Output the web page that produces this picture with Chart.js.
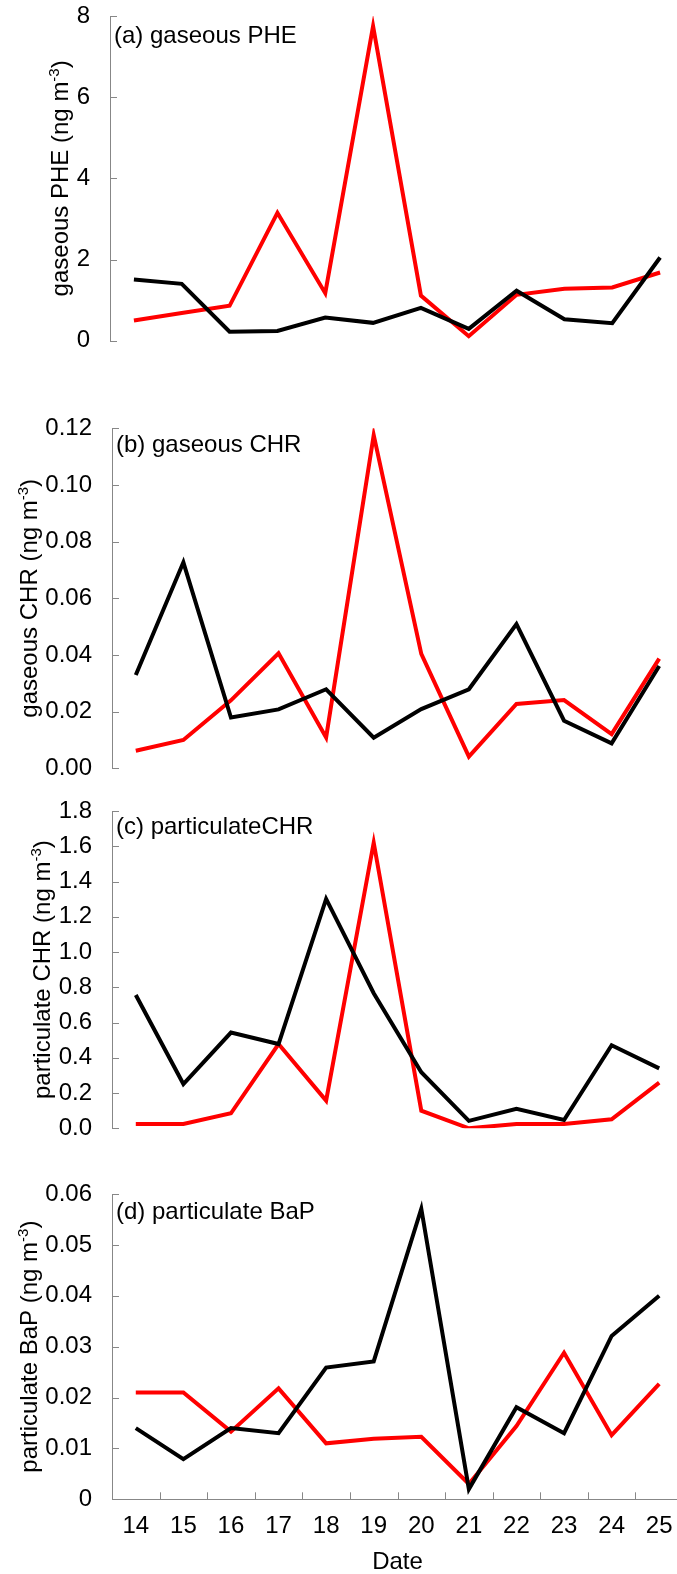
<!DOCTYPE html>
<html>
<head>
<meta charset="utf-8">
<title>PAH time series</title>
<script src="https://cdn.jsdelivr.net/npm/chart.js@4.4.1/dist/chart.umd.min.js"></script>
<style>
  html, body { margin: 0; padding: 0; background: #fff; overflow: hidden; }
  #wrap { position: relative; width: 677px; height: 1574px; overflow: hidden; }
  #wrap canvas { position: absolute; left: 0; }
</style>
</head>
<body>
<div id="wrap">
  <canvas id="panelA"></canvas>
  <canvas id="panelB"></canvas>
  <canvas id="panelC"></canvas>
  <canvas id="panelD"></canvas>
</div>
<script>
// sampling dates
const dates = ['14', '15', '16', '17', '18', '19', '20', '21', '22', '23', '24', '25'];

// (a) gaseous PHE, ng m-3
const pheGasBlack = [1.51, 1.40, 0.22, 0.24, 0.57, 0.44, 0.81, 0.29, 1.23, 0.53, 0.43, 2.05];
const pheGasRed   = [0.50, 0.68, 0.86, 3.15, 1.17, 7.75, 1.11, 0.11, 1.13, 1.28, 1.31, 1.68];
const pheGasTicks = ['0', '2', '4', '6', '8'];

// (b) gaseous CHR, ng m-3
const chrGasBlack = [0.0329, 0.0727, 0.0179, 0.0208, 0.0279, 0.0108, 0.0209, 0.0279, 0.0509, 0.0168, 0.0088, 0.0361];
const chrGasRed   = [0.0062, 0.0100, 0.0240, 0.0406, 0.0109, 0.1176, 0.0404, 0.0041, 0.0227, 0.0241, 0.0121, 0.0387];
const chrGasTicks = ['0.00', '0.02', '0.04', '0.06', '0.08', '0.10', '0.12'];

// (c) particulate CHR, ng m-3
const chrPartBlack = [0.756, 0.251, 0.543, 0.478, 1.301, 0.766, 0.318, 0.042, 0.110, 0.047, 0.471, 0.340];
const chrPartRed   = [0.025, 0.025, 0.085, 0.478, 0.157, 1.620, 0.100, 0.000, 0.025, 0.025, 0.051, 0.259];
const chrPartTicks = ['0.0', '0.2', '0.4', '0.6', '0.8', '1.0', '1.2', '1.4', '1.6', '1.8'];

// (d) particulate BaP, ng m-3
const bapPartBlack = [0.0140, 0.0079, 0.0140, 0.0130, 0.0259, 0.0271, 0.0571, 0.0020, 0.0181, 0.0130, 0.0321, 0.0400];
const bapPartRed   = [0.0210, 0.0210, 0.0133, 0.0218, 0.0110, 0.0119, 0.0123, 0.0030, 0.0144, 0.0288, 0.0126, 0.0227];
const bapPartTicks = ['0', '0.01', '0.02', '0.03', '0.04', '0.05', '0.06'];

const FONT = '"Liberation Sans", Arial, Helvetica, sans-serif';
const AXIS_GREY = '#878787';
const TICK_PAD = 20;
const CANVAS_W = 690;

// draws inward tick marks, the panel tag and the rotated y title (with superscript)
const panelDecor = {
    id: 'panelDecor',
    afterDraw(chart, args, opts) {
        const ctx = chart.ctx;
        const area = chart.chartArea;
        const y = chart.scales.y;
        const x = chart.scales.x;
        ctx.save();

        ctx.strokeStyle = AXIS_GREY;
        ctx.lineWidth = 1;
        y.ticks.forEach((t, i) => {
            const py = Math.round(y.getPixelForTick(i)) + 0.5;
            ctx.beginPath();
            ctx.moveTo(area.left, py);
            ctx.lineTo(area.left + 7, py);
            ctx.stroke();
        });
        if (opts.xTicks) {
            for (let i = 1; i < dates.length; i++) {
                const px = Math.round((x.getPixelForValue(i - 1) + x.getPixelForValue(i)) / 2) + 0.5;
                ctx.beginPath();
                ctx.moveTo(px, area.bottom);
                ctx.lineTo(px, area.bottom - 7);
                ctx.stroke();
            }
        }

        // panel tag, top left inside the plot
        ctx.fillStyle = '#000';
        ctx.font = '24px ' + FONT;
        ctx.textAlign = 'left';
        ctx.textBaseline = 'middle';
        ctx.fillText(opts.tag, area.left + 4, area.top + opts.tagDy);

        // y title: sits left of the widest tick label
        const labelW = Math.max(...opts.tickLabels.map(s => ctx.measureText(s).width));
        const cx = area.left - TICK_PAD - labelW - 17;
        const mainFont = '24px ' + FONT;
        const supFont = '15px ' + FONT;
        ctx.font = mainFont;
        const w1 = ctx.measureText(opts.title).width;
        const w3 = ctx.measureText(')').width;
        ctx.font = supFont;
        const w2 = ctx.measureText('-3').width;
        const base = 8.3;

        ctx.translate(cx, (area.top + area.bottom) / 2);
        ctx.rotate(-Math.PI / 2);
        ctx.textBaseline = 'alphabetic';
        let tx = -(w1 + w2 + w3) / 2;
        ctx.font = mainFont;
        ctx.fillText(opts.title, tx, base);
        tx += w1;
        ctx.font = supFont;
        ctx.fillText('-3', tx, base - 9);
        tx += w2;
        ctx.font = mainFont;
        ctx.fillText(')', tx, base);

        ctx.restore();
    }
};

function makePanel(cfg) {
    const el = document.getElementById(cfg.id);
    el.width = CANVAS_W;
    el.height = cfg.height;
    el.style.top = cfg.top + 'px';

    const xScale = {
        type: 'category',
        offset: true,
        display: cfg.showX,
        grid: { display: false, drawTicks: false, tickLength: 0 },
        border: { display: true, color: AXIS_GREY, width: 1 },
        ticks: { color: '#000', padding: 13, maxRotation: 0, font: { family: FONT, size: 24 } },
        title: {
            display: cfg.showX,
            text: 'Date',
            color: '#000',
            padding: { top: 4, bottom: 0 },
            font: { family: FONT, size: 24 }
        }
    };
    if (cfg.showX) xScale.afterFit = s => { s.height = cfg.xHeight; };

    return new Chart(el, {
        type: 'line',
        data: {
            labels: dates,
            datasets: [
                { data: cfg.black, borderColor: '#000000', borderWidth: 4, pointRadius: 0, tension: 0, fill: false },
                { data: cfg.red, borderColor: '#ff0000', borderWidth: 4, pointRadius: 0, tension: 0, fill: false }
            ]
        },
        options: {
            responsive: false,
            animation: false,
            devicePixelRatio: 1,
            events: [],
            layout: {
                padding: { left: 0, right: CANVAS_W - cfg.right, top: cfg.padTop, bottom: cfg.padBottom }
            },
            plugins: {
                legend: { display: false },
                tooltip: { enabled: false },
                panelDecor: {
                    tag: cfg.tag,
                    tagDy: cfg.tagDy,
                    title: cfg.title,
                    tickLabels: cfg.ticks,
                    xTicks: cfg.showX
                }
            },
            scales: {
                x: xScale,
                y: {
                    min: 0,
                    max: cfg.max,
                    grid: { display: false, drawTicks: false, tickLength: 0 },
                    border: { display: true, color: AXIS_GREY, width: 1 },
                    ticks: {
                        stepSize: cfg.step,
                        color: '#000',
                        padding: TICK_PAD,
                        font: { family: FONT, size: 24 },
                        callback: (v, i) => cfg.ticks[i]
                    },
                    afterFit: s => { s.width = cfg.left; }
                }
            }
        },
        plugins: [panelDecor]
    });
}

const charts = {};

// canvases overlap a little so each axis keeps room for its end labels
charts.a = makePanel({
    id: 'panelA', top: -20, height: 401, left: 110, right: 684, padTop: 36, padBottom: 40.3,
    black: pheGasBlack, red: pheGasRed, ticks: pheGasTicks, max: 8, step: 2,
    tag: '(a) gaseous PHE', tagDy: 20, title: 'gaseous PHE (ng m', showX: false
});

charts.b = makePanel({
    id: 'panelB', top: 390, height: 420, left: 112, right: 683, padTop: 38.3, padBottom: 41.7,
    black: chrGasBlack, red: chrGasRed, ticks: chrGasTicks, max: 0.12, step: 0.02,
    tag: '(b) gaseous CHR', tagDy: 17, title: 'gaseous CHR (ng m', showX: false
});

charts.c = makePanel({
    id: 'panelC', top: 770, height: 400, left: 112, right: 683, padTop: 41, padBottom: 41.7,
    black: chrPartBlack, red: chrPartRed, ticks: chrPartTicks, max: 1.8, step: 0.2,
    tag: '(c) particulateCHR', tagDy: 16, title: 'particulate CHR (ng m', showX: false
});

charts.d = makePanel({
    id: 'panelD', top: 1155, height: 422, left: 112, right: 683, padTop: 39, padBottom: 0,
    black: bapPartBlack, red: bapPartRed, ticks: bapPartTicks, max: 0.06, step: 0.01,
    tag: '(d) particulate BaP', tagDy: 18, title: 'particulate BaP (ng m', showX: true, xHeight: 77.7
});
</script>
</body>
</html>
